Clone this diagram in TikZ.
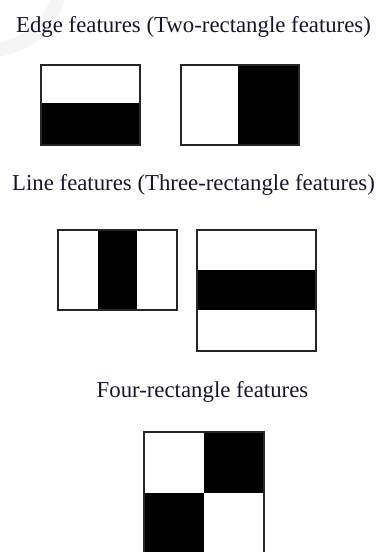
\documentclass[tikz,border=0pt]{standalone}
\usepackage{fontspec}
\setmainfont{Liberation Serif}
\definecolor{inkblue}{rgb}{0.10,0.08,0.18}
\begin{document}
\begin{tikzpicture}[x=1pt,y=-1pt,
    title/.style={font=\fontsize{22.8}{26}\selectfont, text=inkblue, anchor=base, inner sep=0pt},
    frame/.style={draw=black!85, line width=1.6pt},
    dark/.style={fill=black}]
    \useasboundingbox (0,0) rectangle (377,552);
    \clip (0,0) rectangle (377,552);
    % Faint watermark arc in the corner
    \draw[black!4, line width=14pt] (-10,-20) circle (70);
    % Titles
    \node[title] (edge) at (193.5,32) {Edge features (Two-rectangle features)};
    \node[title] (line) at (193.5,190) {Line features (Three-rectangle features)};
    \node[title] (four) at (202.5,397) {Four-rectangle features};
    % Edge features
    \fill[dark] (41,103) rectangle (140,145);
    \draw[frame] (41,65) rectangle (140,145);
    \fill[dark] (238,65) rectangle (299,145);
    \draw[frame] (181,65) rectangle (299,145);
    % Line features
    \fill[dark] (98,230) rectangle (137,310);
    \draw[frame] (58,230) rectangle (177,310);
    \fill[dark] (197,270) rectangle (316,310);
    \draw[frame] (197,230) rectangle (316,351);
    % Four-rectangle features
    \fill[dark] (204,432) rectangle (264,493);
    \fill[dark] (144,493) rectangle (204,556);
    \draw[frame] (144,432) rectangle (264,556);
\end{tikzpicture}
\end{document}
